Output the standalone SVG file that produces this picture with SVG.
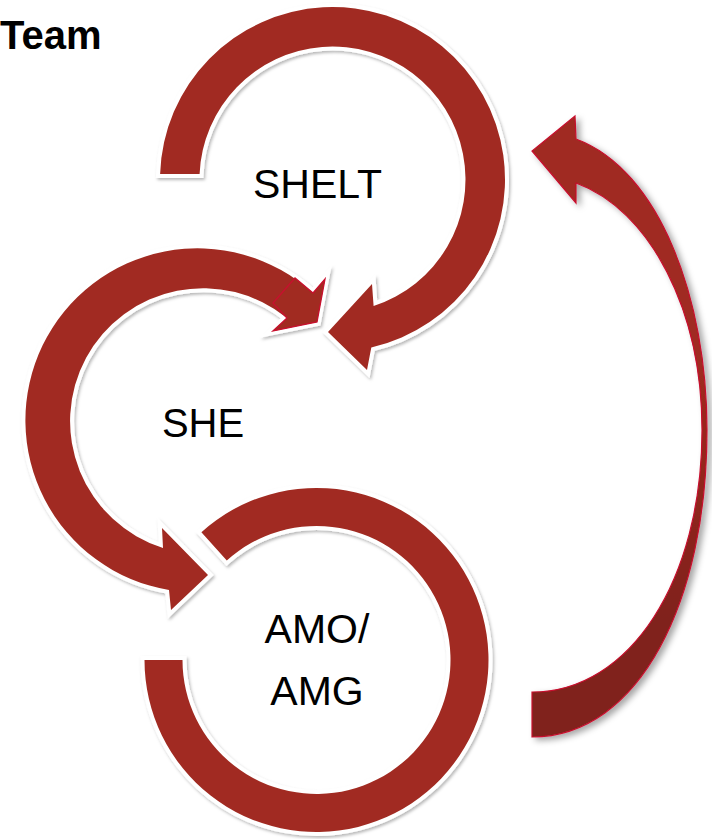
<svg xmlns="http://www.w3.org/2000/svg" width="712" height="839" viewBox="0 0 712 839">
<defs>
<filter id="sh" x="-10%" y="-10%" width="125%" height="125%">
<feDropShadow dx="1.5" dy="2" stdDeviation="1.8" flood-color="#000" flood-opacity="0.28"/>
</filter>
<filter id="sh2" x="-10%" y="-10%" width="130%" height="120%">
<feDropShadow dx="4" dy="3" stdDeviation="3" flood-color="#000" flood-opacity="0.35"/>
</filter>
<linearGradient id="rg" gradientUnits="userSpaceOnUse" x1="0" y1="360" x2="0" y2="620">
<stop offset="0" stop-color="#A02A20"/>
<stop offset="1" stop-color="#80211A"/>
</linearGradient>
</defs>
<style>
.arc{fill:#A12B21;stroke:#fff;stroke-width:8;paint-order:stroke;stroke-linejoin:miter;filter:url(#sh)}
.over{fill:#A12B21;stroke:#C8102E;stroke-width:1.3;stroke-linejoin:miter}
.lbl{font-family:"Liberation Sans",Arial,sans-serif;font-size:41px;fill:#000;text-anchor:middle}
.title{font-family:"Liberation Sans",Arial,sans-serif;font-size:40px;font-weight:bold;fill:#000}
.big{fill:url(#rg);stroke:#C8102E;stroke-width:1.2;filter:url(#sh2)}
</style>
<rect width="712" height="839" fill="#fff"/>
<g id="title"><text class="title" x="0" y="49">Team</text></g>
<g id="node-amo">
<path class="arc" d="M144.5,660 A172,172 0 1 0 201.4,532.2 L226.8,560.4 A134,134 0 1 1 182.5,660 Z"/>
<text class="lbl" x="317" y="643">AMO/</text>
<text class="lbl" x="317" y="705">AMG</text>
</g>
<g id="node-she">
<path class="arc" d="M313,293 A172,172 0 1 0 169,590 L171,610 L208,575 L162,528 L163,548 A133,133 0 1 1 287,318 L273,331 L317,322 L325,279 Z"/>
<path class="over" d="M273,303 L295,278 L313,293 L325,279 L317,322 L273,331 L287,318 Z"/>
<text class="lbl" x="203" y="437" style="font-size:40px">SHE</text>
</g>
<g id="node-shelt">
<path class="arc" d="M160.1,174 A172.5,172.5 0 1 1 371.3,347.6 L367,370 L328,332 L372,284 L373.6,306 A133,133 0 1 0 199.6,174 Z"/>
<text class="lbl" x="317.5" y="198">SHELT</text>
</g>
<g id="connectors">
<path class="big" d="M576,139 C660,170 707,300 707,430 C707,600 640,737 532,737 L532,692 C630,692 702,580 702,430 C702,310 650,210 576,183 L576,203 L532,151 L575,116 Z"/>
</g>
</svg>
